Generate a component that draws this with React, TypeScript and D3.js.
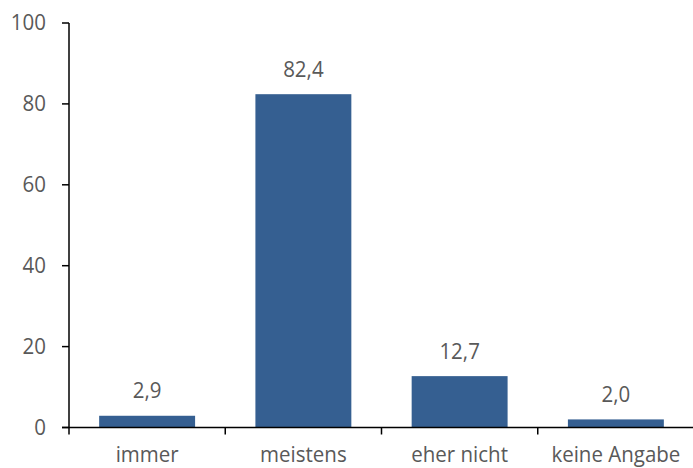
import React from "react";
import * as d3 from "d3";

const categories = ["immer", "meistens", "eher nicht", "keine Angabe"];
const values = [2.9, 82.4, 12.7, 2.0];
const yTicks = [0, 20, 40, 60, 80, 100];

const W = 693;
const H = 468;
const x0 = 69;
const x1 = 694;
const yBase = 427.5;
const yTop = 23;
const FONT = "'Open Sans', sans-serif";
const TXT = "#595959";
const BAR = "#355F91";
const FS = 20.5;

export default function App() {
  const x = d3.scaleBand<string>().domain(categories).range([x0, x1]).paddingInner(0.386).paddingOuter(0.193);
  const xb = d3.scaleBand<string>().domain(categories).range([x0, x1]);
  const y = d3.scaleLinear().domain([0, 100]).range([yBase, yTop]);
  const fmt = (v: number) => v.toFixed(1).replace(".", ",");
  const T = (props: { x: number; y: number; anchor: string; children: React.ReactNode }) => (
    <text
      transform={`translate(${props.x},${props.y}) scale(1,1.08)`}
      textAnchor={props.anchor}
      fontFamily={FONT}
      fontSize={FS}
      fill={TXT}
    >
      {props.children}
    </text>
  );
  return (
    <svg width={W} height={H} style={{ position: "absolute", left: 0, top: 0 }}>
      <rect width={W} height={H} fill="#fff" />
      {categories.map((c, i) => (
        <g key={c}>
          <rect x={x(c)} y={y(values[i])} width={x.bandwidth()} height={yBase - y(values[i])} fill={BAR} />
          <T x={x(c)! + x.bandwidth() / 2} y={y(values[i]) - 17.5} anchor="middle">
            {fmt(values[i])}
          </T>
          <T x={xb(c)! + xb.bandwidth() / 2} y={461.5} anchor="middle">
            {c}
          </T>
        </g>
      ))}
      {yTicks.map((t) => (
        <g key={t}>
          <line x1={62} x2={x0} y1={y(t)} y2={y(t)} stroke="#000" strokeWidth={1.5} />
          <T x={46} y={y(t) + 7} anchor="end">
            {t}
          </T>
        </g>
      ))}
      <line x1={x0} x2={x0} y1={yTop} y2={yBase + 7} stroke="#000" strokeWidth={1.5} />
      <line x1={62} x2={x1} y1={yBase} y2={yBase} stroke="#000" strokeWidth={1.5} />
      {categories.slice(1).map((c) => (
        <line key={c} x1={xb(c)} x2={xb(c)} y1={yBase} y2={yBase + 7} stroke="#000" strokeWidth={1.5} />
      ))}
    </svg>
  );
}
